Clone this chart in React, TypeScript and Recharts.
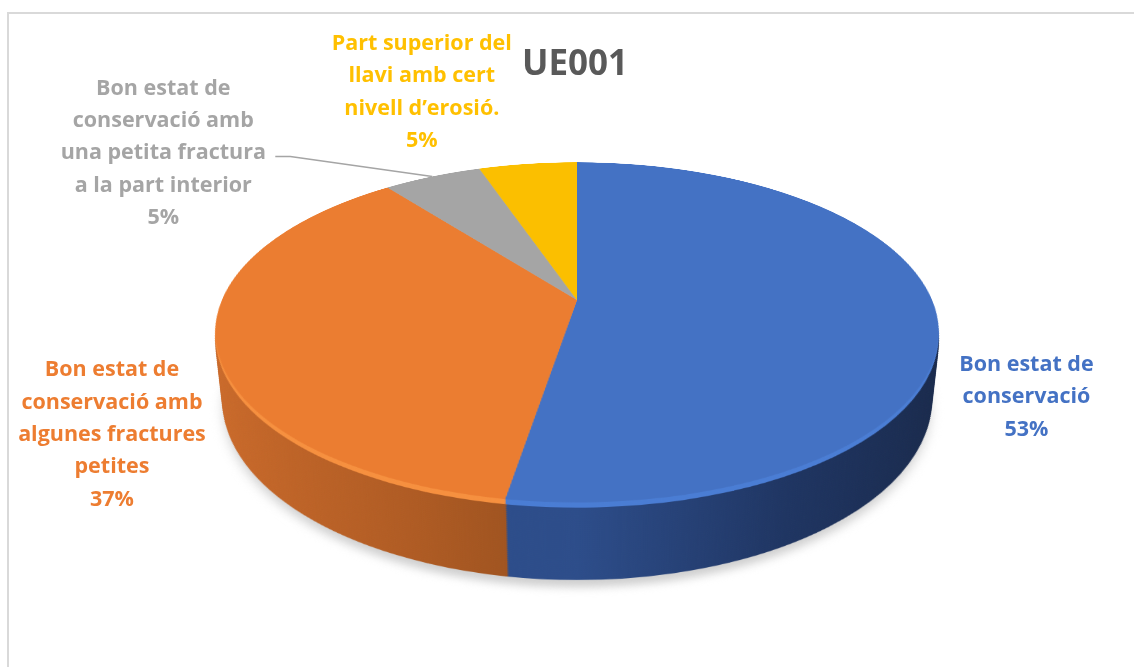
import React from "react";
import { PieChart, Pie, Cell } from "recharts";

const title = "UE001";
const categories = [
  "Bon estat de conservació",
  "Bon estat de conservació amb algunes fractures petites",
  "Bon estat de conservació amb una petita fractura a la part interior",
  "Part superior del llavi amb cert nivell d’erosió.",
];
const counts = [10, 7, 1, 1];
const labelLines = [
  ["Bon estat de", "conservació"],
  ["Bon estat de", "conservació amb", "algunes fractures", "petites"],
  ["Bon estat de", "conservació amb", "una petita fractura", "a la part interior"],
  ["Part superior del", "llavi amb cert", "nivell d’erosió."],
];

const data = categories.map((name, i) => ({ name, value: counts[i] }));

// colours
const topColors = ["#4472C4", "#EB7D31", "#A5A5A5", "#FBBF00"];
const bevelColors = ["#4a7dd4", "#f6903f", "#b3b3b3", "#ffca2a"];
const labelColors = ["#4472C4", "#ED7D31", "#A5A5A5", "#FFC000"];

// 3d geometry (CSS perspective)
const CX = 577;
const CY = 300;
const R = 355;
const BOX = 760;
const TILT = 62.5;
const PERSP = 1653;
const DEPTH = 77;
const LINE_H = 32.4;
const NO_MARGIN = { top: 0, right: 0, bottom: 0, left: 0 };

// where each label block sits, relative to its slice's rim point
const labelOffsets = [
  [90, 57],
  [-104, 34],
  [-269, -82],
  [-106, -114],
];

const depths: number[] = [];
for (let t = DEPTH; t > 0; t -= 2) depths.push(t);

function project(cx: number, cy: number, r: number, angle: number) {
  const a = (angle * Math.PI) / 180;
  const th = (TILT * Math.PI) / 180;
  const u = r * Math.cos(a);
  const v = -r * Math.sin(a);
  const f = PERSP / (PERSP - v * Math.sin(th));
  return { x: cx + u * f, y: cy + v * Math.cos(th) * f };
}

function DiscLayer({ depth, kind }: { depth: number; kind: "top" | "bevel" | "wall" | "shadow" }) {
  const id = `g${depth}`;
  const fills =
    kind === "top"
      ? topColors
      : kind === "bevel"
      ? bevelColors
      : kind === "shadow"
      ? ["#cfcfcf", "#cfcfcf", "#cfcfcf", "#cfcfcf"]
      : [`url(#wb-${id})`, `url(#wo-${id})`, "#6b6b6b", "#a07800"];
  return (
    <div
      style={{
        position: "absolute",
        left: CX - BOX / 2,
        top: CY - BOX / 2,
        width: BOX,
        height: BOX,
        transform: `perspective(${PERSP}px) rotateX(${TILT}deg) translateZ(${-depth}px)`,
        filter: kind === "shadow" ? "blur(6px)" : undefined,
      }}
    >
      <PieChart width={BOX} height={BOX} margin={NO_MARGIN}>
        <defs>
          <linearGradient id={`wb-${id}`} gradientUnits="userSpaceOnUse" x1={BOX / 2} y1="0" x2={BOX / 2 + R} y2="0">
            <stop offset="0%" stopColor="#2d4d8a" />
            <stop offset="50%" stopColor="#1f3562" />
            <stop offset="100%" stopColor="#19294a" />
          </linearGradient>
          <linearGradient id={`wo-${id}`} gradientUnits="userSpaceOnUse" x1={BOX / 2 - R} y1="0" x2={BOX / 2} y2="0">
            <stop offset="0%" stopColor="#cc6b2b" />
            <stop offset="60%" stopColor="#b05c24" />
            <stop offset="100%" stopColor="#964f1e" />
          </linearGradient>
        </defs>
        <Pie
          data={data}
          dataKey="value"
          cx={BOX / 2}
          cy={BOX / 2}
          outerRadius={R}
          startAngle={90}
          endAngle={-270}
          isAnimationActive={false}
        >
          {data.map((d, i) => (
            <Cell
              key={d.name}
              fill={fills[i]}
              stroke={kind === "wall" ? fills[i] : "none"}
              strokeWidth={kind === "wall" ? 1.5 : 0}
            />
          ))}
        </Pie>
      </PieChart>
    </div>
  );
}

const renderLabel = (props: any) => {
  const { cx, cy, midAngle, outerRadius, index, percent } = props;
  const a = project(cx, cy, outerRadius, midAngle);
  const x = a.x + labelOffsets[index][0];
  const y0 = a.y + labelOffsets[index][1];
  const lines = [...labelLines[index], `${Math.round(percent * 100)}%`];
  return (
    <g key={`lbl-${index}`}>
      {index === 2 && (
        <polyline
          points={`${x + 112},${y0 + 62} ${x + 127},${y0 + 62} ${a.x},${a.y}`}
          fill="none"
          stroke="#a5a5a5"
          strokeWidth={1.5}
        />
      )}
      <text
        textAnchor="middle"
        fill={labelColors[index]}
        fontFamily="'Open Sans', sans-serif"
        fontWeight={700}
        fontSize={21.5}
      >
        {lines.map((l, k) => (
          <tspan key={k} x={x} y={y0 + k * LINE_H}>
            {l}
          </tspan>
        ))}
      </text>
    </g>
  );
};

export default function App() {
  return (
    <div
      style={{
        position: "relative",
        width: 1134,
        height: 667,
        overflow: "hidden",
        background: "#fff",
      }}
    >
      <style>{`body{margin:0;overflow:hidden}`}</style>
      <div
        style={{
          position: "absolute",
          left: 7,
          top: 12,
          width: 1300,
          height: 800,
          border: "2px solid #d9d9d9",
        }}
      />
      <DiscLayer depth={DEPTH + 8} kind="shadow" />
      {depths.map((t) => (
        <DiscLayer key={t} depth={t} kind={t <= 5 ? "bevel" : "wall"} />
      ))}
      <DiscLayer depth={0} kind="top" />
      <div style={{ position: "absolute", left: 0, top: 0 }}>
        <PieChart width={1134} height={667} margin={NO_MARGIN}>
          <text
            x={575}
            y={75}
            textAnchor="middle"
            fill="#595959"
            fontFamily="'Open Sans', sans-serif"
            fontWeight={700}
            fontSize={35}
          >
            {title}
          </text>
          <Pie
            data={data}
            dataKey="value"
            cx={CX}
            cy={CY}
            outerRadius={R}
            startAngle={90}
            endAngle={-270}
            isAnimationActive={false}
            label={renderLabel}
            labelLine={false}
          >
            {data.map((d) => (
              <Cell key={d.name} fill="transparent" stroke="none" />
            ))}
          </Pie>
        </PieChart>
      </div>
    </div>
  );
}
